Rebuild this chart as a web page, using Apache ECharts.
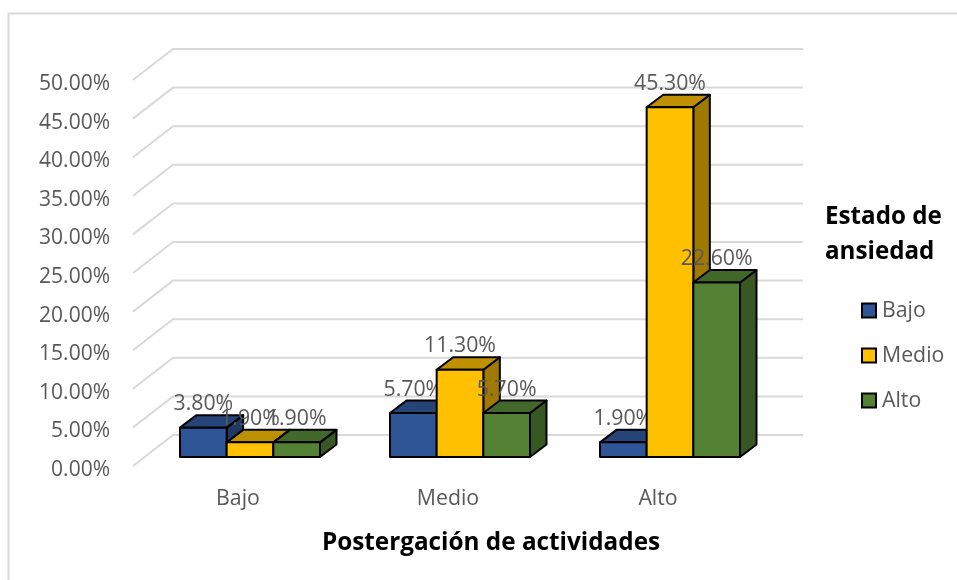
<!DOCTYPE html>
<html><head><meta charset="utf-8">
<script src="https://cdn.jsdelivr.net/npm/echarts@6/dist/echarts.min.js"></script>
<style>html,body{margin:0;padding:0;background:#fff}#c{width:957px;height:580px}</style>
</head><body><div id="c"></div>
<script>
const categories = ['Bajo', 'Medio', 'Alto'];
const bajo = [3.8, 5.7, 1.9];
const medio = [1.9, 11.3, 45.3];
const alto = [1.9, 5.7, 22.6];
const yTicks = [0, 5, 10, 15, 20, 25, 30, 35, 40, 45, 50];
const names = ['Bajo', 'Medio', 'Alto'];
const faces = [
  ['#2F5597', '#264478', '#1F3864'],
  ['#FFC000', '#BF9000', '#A07A00'],
  ['#548235', '#43682B', '#385723']
];
const FONT = '"Open Sans"';
const WALL = [40, -31], BAR_DEPTH = [16.5, -12.5], FRONT = [12, -9];
const wallSeries = {
  type: 'custom', silent: true, clip: false, z: 1, legendHoverLink: false,
  name: 'wall', data: yTicks.map(v => [0, v]),
  renderItem(params, api) {
    const cs = params.coordSys;
    const y = api.coord([0, api.value(1)])[1];
    const x0 = cs.x;
    return { type: 'polyline', shape: { points: [[x0, y], [x0 + WALL[0], y + WALL[1]], [x0 + cs.width + WALL[0], y + WALL[1]]] },
      style: { stroke: '#D9D9D9', lineWidth: 2, fill: null } };
  }
};
function barSeries(idx, values) {
  return {
    type: 'custom', name: names[idx], clip: false, z: 2 + idx,
    itemStyle: { color: faces[idx][0], borderColor: '#000', borderWidth: 1.5 },
    data: values.map((v, i) => [i, v]),
    renderItem(params, api) {
      const band = api.size([1, 0])[0];
      const w = band / 4.5;
      const c = api.coord([api.value(0), api.value(1)]);
      const base = api.coord([api.value(0), 0]);
      const xl = c[0] + FRONT[0] + (idx - 1.5) * w;
      const xr = xl + w, yt = c[1] + FRONT[1], yb = base[1] + FRONT[1];
      const d = BAR_DEPTH;
      const bs = { stroke: '#000', lineWidth: 2, lineJoin: 'round' };
      return { type: 'group', children: [
        { type: 'polygon', shape: { points: [[xr, yt], [xr + d[0], yt + d[1]], [xr + d[0], yb + d[1]], [xr, yb]] }, style: { fill: faces[idx][2], ...bs } },
        { type: 'polygon', shape: { points: [[xl, yt], [xl + d[0], yt + d[1]], [xr + d[0], yt + d[1]], [xr, yt]] }, style: { fill: faces[idx][1], ...bs } },
        { type: 'rect', shape: { x: xl, y: yt, width: w, height: yb - yt }, style: { fill: faces[idx][0], ...bs } },
        { type: 'text', z2: 100, x: (xl + xr) / 2, y: yt - 23.5,
          style: { text: api.value(1).toFixed(2) + '%', fill: '#595959', font: '21.3px ' + FONT, align: 'center', verticalAlign: 'middle' } }
      ] };
    }
  };
}
const chart = echarts.init(document.getElementById('c'), null, { renderer: 'canvas' });
chart.setOption({
  animation: false,
  backgroundColor: '#fff',
  graphic: [{ type: 'polyline', z: 0, silent: true, shape: { points: [[8.5, 580], [8.5, 13.5], [957, 13.5]] }, style: { stroke: '#D9D9D9', lineWidth: 2, fill: null } }],
  title: [
    { text: 'Estado de\nansiedad', left: 825, top: 200, padding: 0,
      textStyle: { fontFamily: FONT, fontWeight: 'bold', fontSize: 24.2, lineHeight: 35, color: '#000' } },
    { text: 'Postergación de actividades', left: 491, top: 531, padding: 0, textAlign: 'center',
      textStyle: { fontFamily: FONT, fontWeight: 'bold', fontSize: 24.3, color: '#000' } }
  ],
  legend: { orient: 'vertical', left: 861, top: 300, itemWidth: 14, itemHeight: 14, itemGap: 24, padding: 0, icon: 'rect',
    data: names, selectedMode: false,
    textStyle: { fontFamily: FONT, fontSize: 21.3, color: '#595959', padding: [0, 0, 0, 1] } },
  grid: { left: 133, width: 630, top: 80, height: 386, containLabel: false },
  xAxis: { type: 'category', data: categories, axisLine: { show: false }, axisTick: { show: false },
    axisLabel: { fontFamily: FONT, fontSize: 21.3, color: '#595959', margin: 22 } },
  yAxis: { type: 'value', min: 0, max: 50, interval: 5, axisLine: { show: false }, axisTick: { show: false }, splitLine: { show: false },
    axisLabel: { margin: 23, formatter: v => '{a|' + v.toFixed(2) + '%}',
      rich: { a: { fontFamily: FONT, fontSize: 21, color: '#595959', padding: [8, 0, 0, 0] } } } },
  series: [wallSeries, barSeries(0, bajo), barSeries(1, medio), barSeries(2, alto)]
});
</script></body></html>
